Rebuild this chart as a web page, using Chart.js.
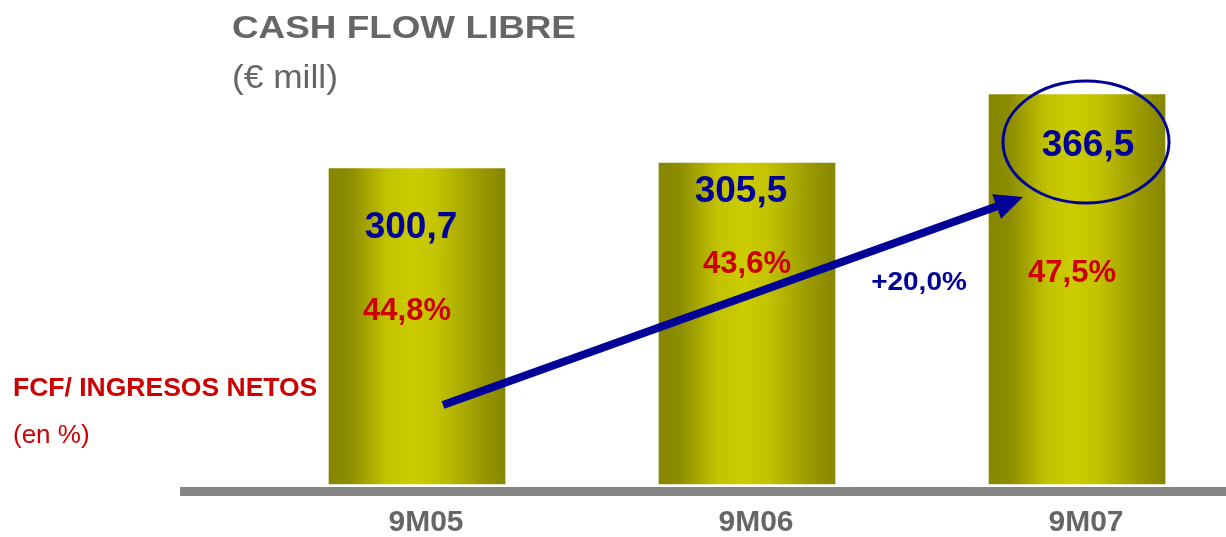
<!DOCTYPE html>
<html>
<head>
<meta charset="utf-8">
<script src="https://cdn.jsdelivr.net/npm/chart.js@4"></script>
<style>
  html, body { margin: 0; padding: 0; background: #ffffff; }
  #wrap { width: 1226px; height: 537px; }
</style>
</head>
<body>
<div id="wrap"><canvas id="fcf" width="1226" height="537"></canvas></div>
<script>
var categories = ["9M05", "9M06", "9M07"];
var cashFlow = [300.7, 305.5, 366.5];
var fcfRatio = [44.8, 43.6, 47.5];

var blue = "#000099";
var red = "#cc0000";
var grey = "#666666";
var font = "'Liberation Sans', Arial, sans-serif";
var yMin = 20;

// where the in-bar texts sit (dx from bar centre, dy up from the axis base)
var labelLayout = [
  { vx: -6, vy: 246, px: -10, py: 164 },
  { vx: -6, vy: 282, px: 0, py: 211 },
  { vx: 11, vy: 328, px: -5, py: 202 },
];

function fmt(v) {
  return v.toFixed(1).replace(".", ",");
}

function txt(ctx, s, x, y, f, color, align, sx) {
  ctx.save();
  ctx.font = f;
  ctx.fillStyle = color;
  ctx.textAlign = align || "center";
  ctx.textBaseline = "alphabetic";
  ctx.translate(x, y);
  ctx.scale(sx || 1, 1);
  ctx.fillText(s, 0, 0);
  ctx.restore();
}

function barFill(c) {
  var ch = c.chart;
  var xs = ch.scales.x;
  if (!xs || !ch.chartArea) {
    return "#c4c400";
  }
  var cx = xs.getPixelForValue(c.dataIndex);
  var half = 88;
  var g = ch.ctx.createLinearGradient(cx - half, 0, cx + half, 0);
  g.addColorStop(0, "#868600");
  g.addColorStop(0.12, "#8d8d00");
  g.addColorStop(0.33, "#c2c200");
  g.addColorStop(0.48, "#cccc00");
  g.addColorStop(0.62, "#c2c200");
  g.addColorStop(0.86, "#999900");
  g.addColorStop(1, "#868600");
  return g;
}

var decor = {
  id: "decor",
  afterDatasetsDraw: function (chart) {
    var ctx = chart.ctx;
    var area = chart.chartArea;
    var base = area.bottom;
    var bars = chart.getDatasetMeta(0).data;

    // grey floor line
    ctx.save();
    ctx.fillStyle = "#858585";
    ctx.fillRect(180, base + 3, chart.width - 180, 9);
    ctx.restore();

    // texts inside the bars
    for (var i = 0; i < bars.length; i++) {
      var b = bars[i];
      var l = labelLayout[i];
      txt(ctx, fmt(cashFlow[i]), b.x + l.vx, base - l.vy, "bold 37px " + font, blue);
      txt(ctx, fmt(fcfRatio[i]) + "%", b.x + l.px, base - l.py, "bold 31px " + font, red);
    }

    // growth arrow from first to last bar
    var x0 = bars[0].x + 26, y0 = base - 79;
    var x1 = bars[2].x - 54, y1 = base - 287;
    var dx = x1 - x0, dy = y1 - y0;
    var len = Math.sqrt(dx * dx + dy * dy);
    var ux = dx / len, uy = dy / len;
    var nx = -uy, ny = ux;
    var hl = 28, hw = 13;
    var bx = x1 - ux * hl, by = y1 - uy * hl;
    ctx.save();
    ctx.strokeStyle = blue;
    ctx.fillStyle = blue;
    ctx.lineWidth = 8;
    ctx.beginPath();
    ctx.moveTo(x0, y0);
    ctx.lineTo(bx + ux * 2, by + uy * 2);
    ctx.stroke();
    ctx.beginPath();
    ctx.moveTo(x1, y1);
    ctx.lineTo(bx + nx * hw, by + ny * hw);
    ctx.lineTo(bx - nx * hw, by - ny * hw);
    ctx.closePath();
    ctx.fill();

    // ring round the last value
    ctx.lineWidth = 3;
    ctx.beginPath();
    ctx.ellipse(bars[2].x + 9, base - 342, 83, 61, 0, 0, Math.PI * 2);
    ctx.stroke();
    ctx.restore();

    var growth = (cashFlow[2] / cashFlow[1] - 1) * 100;
    txt(ctx, "+" + fmt(growth) + "%", (bars[1].x + bars[2].x) / 2 + 7, base - 194,
      "bold 25px " + font, blue, "center", 1.12);

    // titles
    txt(ctx, "CASH FLOW LIBRE", 232, 38, "bold 31.5px " + font, grey, "left", 1.17);
    txt(ctx, "(\u20ac mill)", 232, 88, "33px " + font, grey, "left", 1.07);
    txt(ctx, "FCF/ INGRESOS NETOS", 13, 396, "bold 26.5px " + font, red, "left");
    txt(ctx, "(en %)", 13, 443, "26px " + font, red, "left");
  },
};

new Chart(document.getElementById("fcf"), {
  type: "bar",
  data: {
    labels: categories,
    datasets: [
      {
        label: "Cash flow libre",
        data: cashFlow,
        base: yMin,
        backgroundColor: barFill,
        borderWidth: 0,
        barThickness: 176,
        clip: false,
      },
    ],
  },
  options: {
    responsive: false,
    animation: false,
    layout: { padding: { left: 417, right: 149, top: 57, bottom: 0 } },
    plugins: { legend: { display: false }, tooltip: { enabled: false } },
    scales: {
      x: {
        offset: false,
        grid: { display: false, drawTicks: false },
        border: { display: false },
        ticks: {
          color: grey,
          padding: 21,
          labelOffset: 9,
          font: { family: font, size: 30, weight: "bold" },
        },
        afterFit: function (s) {
          s.height = 53;
        },
      },
      y: { display: false, min: yMin, max: 400 },
    },
  },
  plugins: [decor],
});
</script>
</body>
</html>
